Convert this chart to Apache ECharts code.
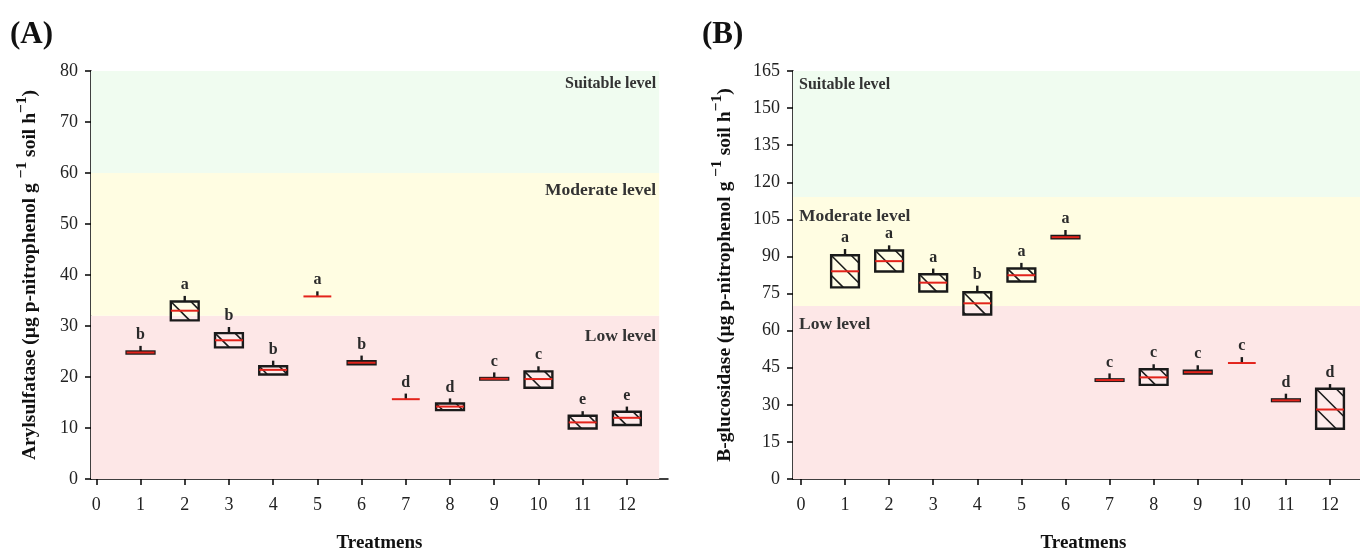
<!DOCTYPE html>
<html>
<head>
<meta charset="utf-8">
<script src="https://cdn.jsdelivr.net/npm/echarts@6/dist/echarts.min.js"></script>
<style>
html,body{margin:0;padding:0;background:#fff;}
#c{width:1360px;height:558px;}
</style>
</head>
<body>
<div id="c"></div>
<script>
// ---------- DATA ----------
const treatments = [1,2,3,4,5,6,7,8,9,10,11,12];
const xTickValues = [0,1,2,3,4,5,6,7,8,9,10,11,12];

// Panel A: Arylsulfatase
const arylQ1      = [24.6, 31.1, 25.8, 20.5, 35.8, 22.5, 15.65, 13.5, 19.5, 17.9, 9.9, 10.6];
const arylMedian  = [24.8, 33.0, 27.2, 21.4, 35.8, 22.8, 15.65, 14.2, 19.65, 19.6, 11.1, 12.0];
const arylQ3      = [25.0, 34.8, 28.6, 22.1, 35.8, 23.1, 15.65, 14.8, 19.8, 21.1, 12.4, 13.2];
const arylWhisker = [26.1, 35.9, 29.8, 23.2, 36.8, 24.2, 16.75, 15.8, 20.9, 22.1, 13.3, 14.2];
const arylLetters = ['b','a','b','b','a','b','d','d','c','c','e','e'];
const arylBands   = [[0, 32], [32, 60], [60, 80]];
const arylBandNames = ['Low level', 'Moderate level', 'Suitable level'];

// Panel B: B-glucosidase
const glucQ1      = [77.5, 83.9, 75.8, 66.5, 79.9, 97.3, 39.7, 38.05, 42.6, 46.9, 31.5, 20.3];
const glucMedian  = [84.0, 88.1, 79.4, 71.05, 82.4, 97.8, 40.0, 41.1, 43.2, 46.9, 31.8, 28.1];
const glucQ3      = [90.5, 92.4, 82.8, 75.5, 85.1, 98.3, 40.3, 44.4, 43.8, 46.9, 32.2, 36.5];
const glucWhisker = [93.0, 94.5, 85.1, 78.2, 87.4, 100.7, 42.7, 46.4, 46.0, 49.3, 34.5, 38.4];
const glucLetters = ['a','a','a','b','a','a','c','c','c','c','d','d'];
const glucBands   = [[0, 70], [70, 114], [114, 165]];
const glucBandNames = ['Low level', 'Moderate level', 'Suitable level'];

// ---------- STYLE ----------
const FONT = '"Liberation Serif", "DejaVu Serif", serif';
const bandColors = ['#fde7e7', '#fffde2', '#f0fcf0'];

function boxData(q1, med, q3, wt) {
  return treatments.map((t, i) => [t, q1[i], med[i], q3[i], wt[i]]);
}

function boxRender(letters) {
  return function (params, api) {
    const i = params.dataIndex;
    const x = api.value(0);
    const q1 = api.value(1), med = api.value(2), q3 = api.value(3), wt = api.value(4);
    const cx = api.coord([x, 0])[0];
    const w = api.size([0.63, 0])[0];
    const yq1 = api.coord([x, q1])[1];
    const yq3 = api.coord([x, q3])[1];
    const ym = api.coord([x, med])[1];
    const yw = api.coord([x, wt])[1];
    const x1 = cx - w / 2, x2 = cx + w / 2;
    const h = yq1 - yq3;
    const ch = [];
    if (h > 0.5) {
      ch.push({type: 'rect', shape: {x: x1, y: yq3, width: w, height: h},
        style: {fill: 'rgba(255,255,255,0.2)', stroke: '#1a1a1a', lineWidth: 2.4}});
      if (h > 6) {
        const sp = 20;
        const d0 = yq3 - x1;
        for (let k = -4; k <= 6; k++) {
          const d = d0 + k * sp;
          const xs = Math.max(x1, yq3 - d);
          const xe = Math.min(x2, yq1 - d);
          if (xe > xs + 2) {
            ch.push({type: 'line', shape: {x1: xs, y1: xs + d, x2: xe, y2: xe + d},
              style: {stroke: '#1a1a1a', lineWidth: 1.6}});
          }
        }
      }
    }
    ch.push({type: 'line', shape: {x1: cx, y1: yq3, x2: cx, y2: yw},
      style: {stroke: '#1a1a1a', lineWidth: 2.4}});
    ch.push({type: 'line', shape: {x1: x1, y1: ym, x2: x2, y2: ym},
      style: {stroke: '#e3231b', lineWidth: 2}});
    ch.push({type: 'text', style: {text: letters[i], x: cx, y: yw - 3,
      textAlign: 'center', textVerticalAlign: 'bottom', align: 'center', verticalAlign: 'bottom',
      font: 'bold 16px ' + FONT, fill: '#2a2a2a'}});
    return {type: 'group', children: ch};
  };
}

function bandRender(names, bandEnd, align, offsets) {
  return function (params, api) {
    const i = params.dataIndex;
    const from = api.value(0), to = api.value(1);
    const left = params.coordSys.x;
    const right = api.coord([bandEnd, 0])[0];
    const yTop = api.coord([0, to])[1];
    const yBot = api.coord([0, from])[1];
    const ch = [{type: 'rect', shape: {x: left, y: yTop, width: right - left, height: yBot - yTop},
      style: {fill: bandColors[i]}}];
    ch.push({type: 'text', style: {
      text: names[i],
      x: align === 'right' ? right - 3 : left + 6,
      y: yTop + offsets[i],
      textAlign: align, align: align, textVerticalAlign: 'middle', verticalAlign: 'middle',
      font: 'bold ' + (i === 2 ? 16 : 17.5) + 'px ' + FONT, fill: '#333'}});
    return {type: 'group', children: ch};
  };
}

function yName(main) {
  return '{t|' + main + ' (µg p-nitrophenol g }{s|−1}{t| soil h}{s|−1}{t|)}';
}
const yNameStyle = {
  rich: {
    t: {fontFamily: FONT, fontWeight: 'bold', fontSize: 19.5, color: '#111', lineHeight: 26, verticalAlign: 'bottom'},
    s: {fontFamily: FONT, fontWeight: 'bold', fontSize: 15.5, color: '#111', lineHeight: 26, verticalAlign: 'top'}
  }
};

const axisLineStyle = {show: true, onZero: false, lineStyle: {color: '#000', width: 1.5}};
const axisTickStyle = {show: true, length: 6, lineStyle: {color: '#000', width: 1.5}};
const labelStyle = {fontFamily: FONT, fontSize: 18, color: '#222'};

function xAxisCfg(gridIndex, min, max, shift) {
  return {
    type: 'value', gridIndex, min, max,
    axisLine: axisLineStyle,
    axisTick: Object.assign({customValues: xTickValues}, axisTickStyle),
    axisLabel: Object.assign({customValues: xTickValues, margin: 17}, labelStyle),
    splitLine: {show: false},
    name: 'Treatmens', nameLocation: 'middle', nameGap: 55,
    nameTextStyle: {fontFamily: FONT, fontWeight: 'bold', fontSize: 19, color: '#111',
      padding: [0, 0, 0, shift]}
  };
}
function yAxisCfg(gridIndex, max, interval, name, gap) {
  return {
    type: 'value', gridIndex, min: 0, max, interval,
    axisLine: axisLineStyle,
    axisTick: axisTickStyle,
    axisLabel: Object.assign({margin: 13}, labelStyle),
    splitLine: {show: false},
    name: yName(name), nameLocation: 'middle', nameGap: gap,
    nameTextStyle: yNameStyle
  };
}

const chart = echarts.init(document.getElementById('c'), null, {renderer: 'canvas'});
chart.setOption({
  animation: false,
  backgroundColor: '#fff',
  title: [
    {text: '(A)', left: 5, top: 14, textStyle: {fontFamily: FONT, fontWeight: 'bold', fontSize: 31, color: '#111'}},
    {text: '(B)', left: 697, top: 14, textStyle: {fontFamily: FONT, fontWeight: 'bold', fontSize: 31, color: '#111'}}
  ],
  grid: [
    {left: 91, top: 71, width: 577, height: 414},
    {left: 793, top: 71, width: 567, height: 414}
  ],
  xAxis: [xAxisCfg(0, -0.12, 12.93, 0), xAxisCfg(1, -0.18, 12.68, 14)],
  yAxis: [
    yAxisCfg(0, 80, 10, 'Arylsulfatase', 51),
    yAxisCfg(1, 165, 15, 'B-glucosidase', 58)
  ],
  series: [
    {type: 'custom', xAxisIndex: 0, yAxisIndex: 0, z: 1, silent: true,
     renderItem: bandRender(arylBandNames, 12.73, 'right', [21, 17, 13]),
     encode: {y: [0, 1]}, data: arylBands},
    {type: 'custom', xAxisIndex: 1, yAxisIndex: 1, z: 1, silent: true,
     renderItem: bandRender(glucBandNames, 12.68, 'left', [19, 19, 14]),
     encode: {y: [0, 1]}, data: glucBands},
    {type: 'custom', xAxisIndex: 0, yAxisIndex: 0, z: 5,
     renderItem: boxRender(arylLetters),
     encode: {x: 0, y: [1, 2, 3, 4]},
     data: boxData(arylQ1, arylMedian, arylQ3, arylWhisker)},
    {type: 'custom', xAxisIndex: 1, yAxisIndex: 1, z: 5,
     renderItem: boxRender(glucLetters),
     encode: {x: 0, y: [1, 2, 3, 4]},
     data: boxData(glucQ1, glucMedian, glucQ3, glucWhisker)}
  ]
});
</script>
</body>
</html>
